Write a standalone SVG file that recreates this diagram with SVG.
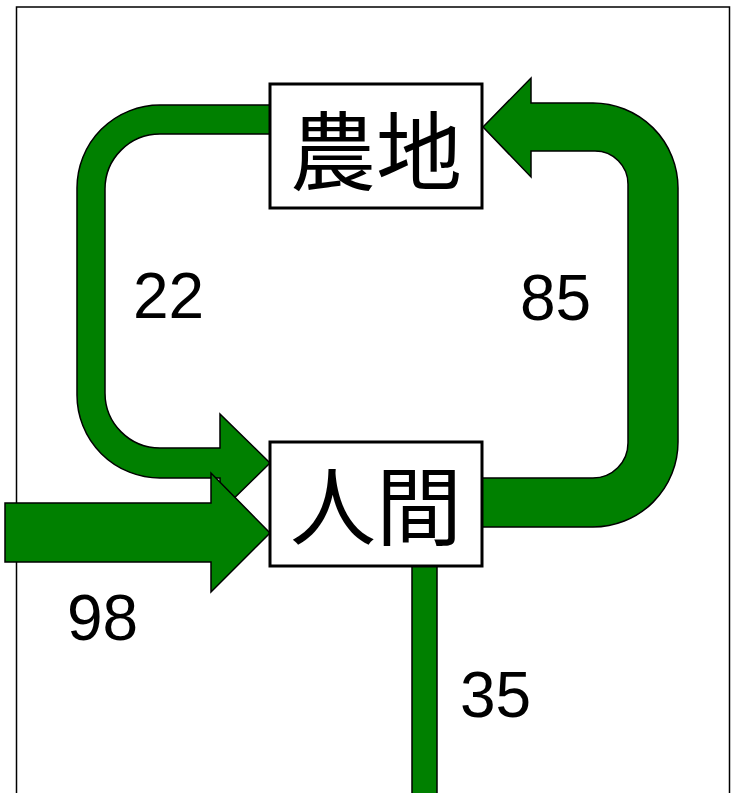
<svg xmlns="http://www.w3.org/2000/svg" width="731" height="793" viewBox="0 0 731 793">
<style>
.flow{fill:#008000;stroke:#000;stroke-width:1.5;stroke-linejoin:miter}
.box{fill:#fff;stroke:#000;stroke-width:3}
.cjk{font-family:"Noto Sans CJK JP","Noto Sans CJK SC",sans-serif;font-size:86px;fill:#000;text-anchor:middle}
.num{font-family:"Liberation Sans",Arial,sans-serif;font-size:64px;fill:#000}
</style>
<rect x="0" y="0" width="731" height="793" fill="#fff"/>
<g id="frame" fill="none" stroke="#000" stroke-width="1.5">
<path d="M16.5 793 V7 H729.5 V793"/>
</g>
<g id="connectors">
<path id="flow85" class="flow" d="M482 478 H593 A35 35 0 0 0 628 443 V184 A33 33 0 0 0 595 151 H531 V177 L483 127 L531 78 V103 H593 A85 85 0 0 1 678 188 V442 A85 85 0 0 1 593 527 H482 Z"/>
<path id="flow22" class="flow" d="M270 105 H160 A83 83 0 0 0 77 188 V395 A83 83 0 0 0 160 478 H220 V512 L270 463 L220 414 V448 H160 A55 55 0 0 1 105 393 V189 A55 55 0 0 1 160 134 H270 Z"/>
<path id="flow98" class="flow" d="M5 503 H211 V473 L270 533 L211 592 V562 H5 Z"/>
<path id="flow35" class="flow" d="M412 566 V800 H437 V566 Z"/>
</g>
<g id="labels">
<text class="num" x="133" y="318">22</text>
<text class="num" x="520" y="320">85</text>
<text class="num" x="67" y="640">98</text>
<text class="num" x="460" y="717">35</text>
</g>
<g id="node-farm">
<rect class="box" x="270" y="84" width="212" height="124"/>
<text class="cjk" x="376" y="184">農地</text>
</g>
<g id="node-human">
<rect class="box" x="270" y="442" width="212" height="124"/>
<text class="cjk" x="376" y="539">人間</text>
</g>
</svg>
